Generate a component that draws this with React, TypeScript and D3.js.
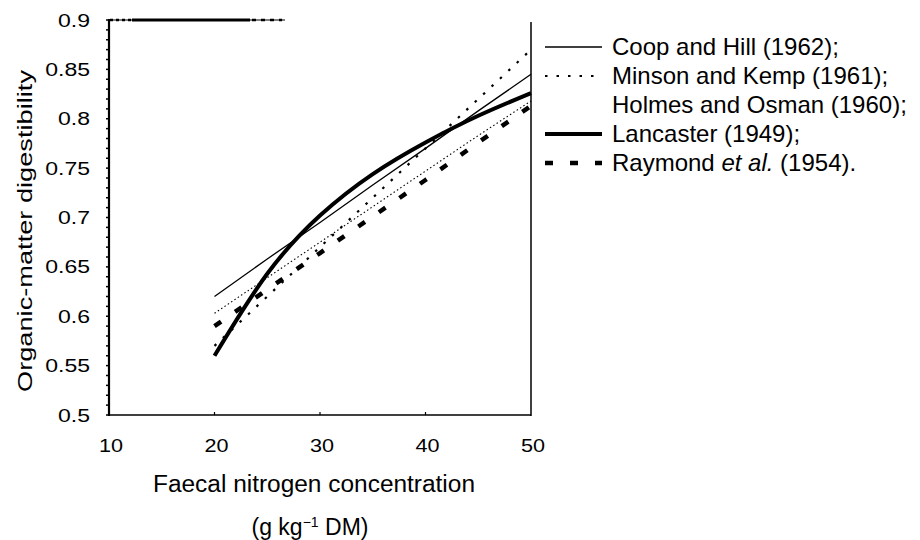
import React from "react";
import * as d3 from "d3";

const nitrogen = [20, 25, 30, 35, 40, 45, 50];
const coopHill = [0.62, 0.658, 0.695, 0.733, 0.77, 0.808, 0.845];
const minsonKemp = [0.57, 0.62, 0.67, 0.72, 0.77, 0.82, 0.87];
const holmesOsman = [0.603, 0.639, 0.675, 0.711, 0.747, 0.783, 0.818];
const lancaster = [0.56, 0.643, 0.702, 0.744, 0.776, 0.803, 0.826];
const raymond = [0.59, 0.627, 0.664, 0.701, 0.738, 0.776, 0.813];

const xTicks = [10, 20, 30, 40, 50];
const yTicks = [0.5, 0.55, 0.6, 0.65, 0.7, 0.75, 0.8, 0.85, 0.9];
const yTickLabels = ["0.5", "0.55", "0.6", "0.65", "0.7", "0.75", "0.8", "0.85", "0.9"];

const seriesNames = [
  "Coop and Hill (1962);",
  "Minson and Kemp (1961);",
  "Holmes and Osman (1960);",
  "Lancaster (1949);",
  "Raymond et al. (1954).",
];

const FONT = "'Liberation Sans', Arial, Helvetica, sans-serif";

export default function App() {
  const x = d3.scaleLinear().domain([10, 50]).range([109, 531]);
  const y = d3.scaleLinear().domain([0.5, 0.9]).range([415, 20]);

  const mk = (vals: number[], curve = d3.curveLinear) =>
    d3
      .line<number>()
      .x((_, i) => x(nitrogen[i]))
      .y((v) => y(v))
      .curve(curve)(vals) || "";

  const styles = [
    { data: coopHill, width: 1.3, dash: "", curve: d3.curveLinear },
    { data: minsonKemp, width: 2.2, dash: "2.5 9", curve: d3.curveLinear },
    { data: holmesOsman, width: 1.1, dash: "1.5 2.5", curve: d3.curveLinear },
    { data: lancaster, width: 4, dash: "", curve: d3.curveNatural },
    { data: raymond, width: 4.5, dash: "8 17", curve: d3.curveLinear },
  ];

  const minor = d3.range(0, 41).map((i) => 0.5 + i * 0.01);

  const legendX1 = 545;
  const legendX2 = 602;
  const legendTextX = 612;
  const legendBase0 = 55;
  const legendStep = 29;

  return (
    <svg
      width={920}
      height={540}
      style={{ position: "absolute", left: 0, top: 0, background: "#fff" }}
      fontFamily={FONT}
    >
      <rect x={0} y={0} width={920} height={540} fill="#fff" />
      {/* frame */}
      <line x1={109} y1={19} x2={109} y2={416} stroke="#000" strokeWidth={2.2} />
      <line x1={108} y1={415} x2={531} y2={415} stroke="#000" strokeWidth={1.5} />
      <line x1={531} y1={22} x2={531} y2={416} stroke="#000" strokeWidth={1.5} />
      <line x1={109} y1={20} x2={285} y2={20} stroke="#000" strokeWidth={1.2} />
      <line x1={132} y1={20} x2={250} y2={20} stroke="#000" strokeWidth={3} />
      <line x1={110} y1={20} x2={132} y2={20} stroke="#000" strokeWidth={2.5} strokeDasharray="3 3" />
      <line x1={252} y1={20} x2={282} y2={20} stroke="#000" strokeWidth={2.5} strokeDasharray="4 5" />
      {minor.map((v, i) => (
        <line key={"m" + i} x1={106} x2={109} y1={y(v)} y2={y(v)} stroke="#000" strokeWidth={1.5} />
      ))}
      {xTicks.slice(1, -1).map((v) => (
        <line key={"xt" + v} x1={x(v)} x2={x(v)} y1={415} y2={412} stroke="#000" strokeWidth={1.2} />
      ))}

      {/* y tick labels */}
      {yTicks.map((v, i) => (
        <text
          key={"yl" + v}
          transform={`translate(90,${y(v) + 6.5}) scale(1.28,1)`}
          textAnchor="end"
          fontSize={18}
          fill="#000"
        >
          {yTickLabels[i]}
        </text>
      ))}
      {/* x tick labels */}
      {xTicks.map((v) => (
        <text
          key={"xl" + v}
          transform={`translate(${x(v) + 2},452) scale(1.2,1)`}
          textAnchor="middle"
          fontSize={18}
          fill="#000"
        >
          {v}
        </text>
      ))}

      {/* axis titles */}
      <text
        transform="translate(32,231) rotate(-90)"
        textAnchor="middle"
        fontSize={21}
        textLength={322}
        lengthAdjust="spacingAndGlyphs"
        fill="#000"
      >
        Organic-matter digestibility
      </text>
      <text x={314} y={492} textAnchor="middle" fontSize={23} textLength={322} lengthAdjust="spacingAndGlyphs" fill="#000">
        Faecal nitrogen concentration
      </text>
      <text x={310} y={535} textAnchor="middle" fontSize={23} fill="#000">
        (g kg
        <tspan dy={-8} fontSize={14}>−1</tspan>
        <tspan dy={8}> DM)</tspan>
      </text>

      {/* series */}
      {styles.map((s, i) => (
        <path
          key={"s" + i}
          d={mk(s.data, s.curve)}
          fill="none"
          stroke="#000"
          strokeWidth={s.width}
          strokeDasharray={s.dash || undefined}
        />
      ))}

      {/* legend */}
      {seriesNames.map((name, i) => {
        const base = legendBase0 + i * legendStep;
        const s = styles[i];
        return (
          <g key={"lg" + i}>
            {i !== 2 && (
              <line
                x1={legendX1}
                x2={legendX2}
                y1={base - 8}
                y2={base - 8}
                stroke="#000"
                strokeWidth={s.width}
                strokeDasharray={s.dash || undefined}
              />
            )}
            <text x={legendTextX} y={base} fontSize={24} fill="#000">
              {i === 4 ? (
                <>
                  Raymond <tspan fontStyle="italic">et al.</tspan> (1954).
                </>
              ) : (
                name
              )}
            </text>
          </g>
        );
      })}
    </svg>
  );
}
